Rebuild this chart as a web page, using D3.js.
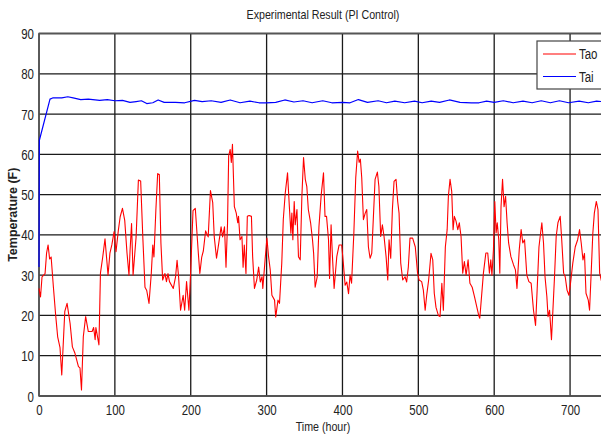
<!DOCTYPE html>
<html>
<head>
<meta charset="utf-8">
<script src="https://cdn.jsdelivr.net/npm/d3@7"></script>
<style>
  body { margin: 0; background: #fff; }
  text { font-family: "Liberation Sans", Arial, sans-serif; fill: #222; }
</style>
</head>
<body>
<div class="chart-wrapper"></div>
<script>
const chartTitle = "Experimental Result (PI Control)";
const xLabel = "Time (hour)";
const yLabel = "Temperature (F)";
const xTicks = [0, 100, 200, 300, 400, 500, 600, 700];
const yTicks = [0, 10, 20, 30, 40, 50, 60, 70, 80, 90];
const seriesNames = ["Tao", "Tai"];
const seriesColors = ["#ff0000", "#0000ff"];

// outdoor temperature, [hour, F]
const taoPoints = [
  [0, 26.7], [2, 24.6], [4, 29.6], [8, 30.4], [10, 35.5], [12, 37.5], [14, 34], [16, 34.5],
  [19, 27], [22, 20], [24.6, 14.7], [27.7, 12], [30, 5.2], [34, 21], [37, 23], [41, 18],
  [44, 12.2], [47.4, 10.6], [52, 7.3], [54, 7], [56, 1.5], [58.4, 14.7], [61.5, 19.7], [65, 16],
  [67, 16], [70, 16], [72, 17], [74, 14], [75, 17], [79, 12.7], [81, 30.5], [84, 34.5],
  [87, 39], [89, 34.5], [91, 30], [93.5, 35.5], [96, 37.5], [99, 40.8], [101.5, 35.8], [104.5, 41],
  [107, 44.5], [110, 46.6], [113, 43.6], [116, 35.5], [118.6, 30], [120, 36], [122, 42.8], [124, 30],
  [128, 39.5], [131, 53.6], [134, 53.4], [137, 38.7], [139.7, 27], [142, 26.2], [145, 23], [148, 30.4],
  [150, 37.5], [151.5, 34.5], [154, 46], [156.4, 55.2], [158.6, 55], [160.7, 38], [163, 28.8], [166, 30.4],
  [168, 28.4], [170, 30.4], [172, 28.4], [177, 26.7], [180, 29.6], [182, 33.7], [184, 29.6], [186.6, 21.3],
  [190, 25], [192, 21.3], [194.5, 28.4], [197.6, 21.3], [200, 31.3], [203, 46], [206, 46.6], [210, 35.5],
  [212, 30.4], [214.5, 34.5], [216.6, 36], [219.6, 41], [223, 39.5], [226, 51], [229, 48], [231, 39.5],
  [234, 34.2], [237, 38], [240, 42], [242, 39.5], [244.5, 42], [246.5, 32], [248.5, 42.8], [250, 59.6],
  [252, 61.2], [253.5, 58], [255, 62.5], [257.5, 47], [260, 45.4], [262, 43], [263, 44.6], [265, 38.8],
  [267.5, 39.6], [269, 32], [270.6, 37.5], [272.8, 30.4], [274.6, 44.6], [277, 44.8], [280, 44.6], [281.6, 34.6],
  [284, 26.7], [287, 28.8], [289.5, 32], [291.7, 28.3], [294, 29.6], [295, 26.7], [298, 33.8], [300.4, 39.2],
  [302.6, 34.6], [304.8, 31.3], [307, 25], [310.5, 23.8], [312, 19.6], [315, 23.8], [317, 23], [320, 33],
  [322, 43.8], [324.6, 50.4], [327.6, 55.4], [330, 47], [332, 40.4], [333.3, 45.4], [334.6, 38.8], [336.4, 48.3],
  [337.7, 42.5], [340, 46.3], [342, 34.6], [344.3, 33.8], [346.5, 49.6], [348.7, 59.2], [351, 53.8], [353, 52],
  [355, 46.3], [358, 43], [360.5, 38.8], [362, 35.4], [364, 27], [366.7, 29.6], [369, 42], [372, 50],
  [375, 55.4], [377, 44.6], [379, 44.6], [381.6, 38.8], [383, 29.2], [385, 42.5], [386.8, 34.6], [389, 26.7],
  [392.5, 34.6], [395.6, 37.5], [399, 37.5], [401, 33.3], [403.5, 27.5], [405.7, 28.3], [408, 25.4], [410, 30],
  [412, 28], [415, 40.4], [417.5, 54.2], [420, 60.8], [422, 58], [423.6, 58.8], [425.4, 54.2], [427.6, 43.8],
  [430, 45.4], [432, 46.3], [434.2, 37], [436.4, 34.2], [438.6, 35.4], [440.8, 44.6], [443, 53.8], [446, 55.6],
  [448, 52], [450.4, 39.6], [452.6, 42.5], [454.8, 39.6], [457.5, 34.6], [459.7, 28.8], [461.4, 38.8], [463.6, 34.2],
  [465.8, 46.3], [468, 53.3], [470.6, 53.8], [472.8, 48.3], [474.6, 45.4], [476.8, 33], [479.4, 28.8], [482.5, 29.6],
  [484.6, 28.3], [486.8, 32], [489, 39.2], [492.5, 39.2], [496, 37], [499, 30.5], [501, 28.8], [504.4, 28.4],
  [506.6, 26.3], [509, 21.3], [511, 25], [513.6, 28.8], [516.7, 35.4], [519, 33.8], [521, 25.5], [523.3, 22],
  [526.4, 20], [528.6, 19.7], [531, 28], [533, 21.3], [535.6, 37], [538, 41.3], [539.6, 49.6], [541.8, 53.8],
  [544, 50.8], [545.8, 41.3], [547.5, 44.6], [549.7, 43.4], [552, 41.3], [554, 43], [556.3, 39.6], [558.5, 30.5],
  [560.7, 33.4], [563, 30], [565.6, 33.8], [568, 28], [571, 27], [574, 24.7], [576, 23], [579.6, 20],
  [581, 19.3], [585.8, 30.5], [589, 35.5], [591.5, 35.5], [593.7, 30.5], [595.5, 33.8], [597, 30], [599, 36.3],
  [600.8, 48.3], [602.5, 40.5], [604, 43], [606, 38.8], [607.4, 30.5], [609, 47], [611, 53.8], [613, 47],
  [615, 49.6], [617, 43], [619, 38], [622, 34.6], [625.4, 32.6], [628, 31.3], [630, 26.7], [633, 36.3],
  [635.5, 41.3], [637.7, 38], [640, 38.8], [643, 30], [645.7, 28.4], [648.7, 28], [651.8, 21.3], [654.5, 17.5],
  [656.6, 26.3], [659, 37], [660.6, 39.6], [662.8, 43], [665, 38], [667, 29.6], [669.4, 24.7], [671, 19.7],
  [673, 21.3], [675.5, 14], [677.3, 21], [679.5, 29.6], [681.7, 39.6], [684, 43], [687, 44.6], [689, 38.8],
  [691.5, 30.5], [693.6, 29.6], [696, 26.3], [698.5, 25], [700.6, 28], [703.6, 33], [706.8, 37], [710, 38.8],
  [712.5, 41.3], [714.7, 38], [717, 33.8], [719, 35.4], [721, 25.5], [724, 23.8], [725.7, 21.3], [728, 31.3],
  [730, 40.4], [732, 45.4], [734.6, 48.3], [736.8, 46.3], [739, 30.5], [742, 28], [745, 31]
];

// indoor temperature, [hour, F]
const taiPoints = [
  [0, 32], [0.5, 63.5], [14.5, 73.7], [18, 74], [30, 74], [38, 74.3], [45, 74], [55, 73.6],
  [65, 73.7], [80, 73.4], [90, 73.6], [100, 73.3], [110, 73.4], [120, 72.9], [128, 73.1], [135, 73.3],
  [142, 72.6], [150, 72.8], [157, 73.5], [165, 72.9], [180, 72.9], [192, 72.8], [205, 73.4], [215, 73.1],
  [227, 73.3], [240, 72.9], [252, 73.5], [265, 72.8], [278, 73.2], [290, 72.8], [300, 72.8], [312, 72.9],
  [324, 73.5], [336, 73.0], [348, 73.3], [360, 72.8], [374, 73.3], [386, 72.8], [400, 72.9], [410, 72.8],
  [421, 73.6], [433, 72.9], [447, 73.3], [458, 72.8], [469, 73.2], [482, 72.8], [495, 73.2], [505, 72.8],
  [517, 73.2], [528, 72.9], [541, 73.5], [555, 72.9], [570, 72.8], [580, 72.8], [590, 73.2], [600, 72.9],
  [612, 73.3], [625, 72.8], [638, 73.2], [650, 72.8], [662, 73.3], [674, 72.8], [686, 73.3], [698, 72.8],
  [712, 73.2], [724, 72.8], [735, 73.2], [750, 73]
];

const width = 601;
const height = 437;
const narrow = 0.82; // squeeze for the narrow plot font

let svg = d3
  .select(".chart-wrapper")
  .append("svg")
  .attr("width", width)
  .attr("height", height);

let x = d3.scaleLinear().domain([0, 750]).range([39, 608]);
let y = d3.scaleLinear().domain([0, 90]).range([396, 33.5]);

let squeeze = sel => {
  sel.each(function () {
    let len = this.getComputedTextLength();
    d3.select(this)
      .attr("textLength", len * narrow)
      .attr("lengthAdjust", "spacingAndGlyphs");
  });
};

// grid
svg.append("g")
  .selectAll("line")
  .data(yTicks)
  .enter()
  .append("line")
  .attr("x1", x(0))
  .attr("x2", x(750))
  .attr("y1", d => y(d))
  .attr("y2", d => y(d))
  .attr("stroke", "#1a1a1a")
  .attr("stroke-width", 1.3);

svg.append("g")
  .selectAll("line")
  .data(xTicks)
  .enter()
  .append("line")
  .attr("x1", d => x(d))
  .attr("x2", d => x(d))
  .attr("y1", y(0))
  .attr("y2", y(90))
  .attr("stroke", "#1a1a1a")
  .attr("stroke-width", 1.3);

// tick labels
let xAxis = d3.axisBottom(x).tickValues(xTicks).tickSize(0).tickPadding(9);
let yAxis = d3.axisLeft(y).tickValues(yTicks).tickSize(0).tickPadding(5);

let gx = svg.append("g").attr("transform", `translate(0,${y(0)})`).call(xAxis);
let gy = svg.append("g").attr("transform", `translate(${x(0)},0)`).call(yAxis);
[gx, gy].forEach(g => {
  g.attr("font-family", null).attr("font-size", null);
  g.select(".domain").remove();
  g.selectAll("text")
    .style("font-size", "14px")
    .attr("fill", "#222")
    .call(squeeze);
});
gy.selectAll("text").attr("dy", "0.36em");

// frame
svg.append("path")
  .attr("d", `M${x(750)},${y(90)}H${x(0)}V${y(0)}H${x(750)}`)
  .attr("fill", "none")
  .attr("stroke", "#555")
  .attr("stroke-width", 1.5);

svg.append("clipPath")
  .attr("id", "plot-clip")
  .append("rect")
  .attr("x", x(0) - 1)
  .attr("y", y(90))
  .attr("width", x(750) - x(0) + 1)
  .attr("height", y(0) - y(90));

let line = d3.line().x(d => x(d[0])).y(d => y(d[1]));

svg.append("path")
  .datum(taoPoints)
  .attr("clip-path", "url(#plot-clip)")
  .attr("d", line)
  .attr("fill", "none")
  .attr("stroke", seriesColors[0])
  .attr("stroke-width", 1.1)
  .attr("stroke-linejoin", "round");

svg.append("path")
  .datum(taiPoints)
  .attr("clip-path", "url(#plot-clip)")
  .attr("d", line)
  .attr("fill", "none")
  .attr("stroke", seriesColors[1])
  .attr("stroke-width", 1.2)
  .attr("stroke-linejoin", "round");

// legend
let legend = svg.append("g").attr("transform", "translate(537,41)");
legend.append("rect")
  .attr("width", 66)
  .attr("height", 48)
  .attr("fill", "#fff")
  .attr("stroke", "#444")
  .attr("stroke-width", 1.2);
seriesNames.forEach((name, i) => {
  legend.append("line")
    .attr("x1", 6)
    .attr("x2", 39)
    .attr("y1", 13 + i * 22.5)
    .attr("y2", 13 + i * 22.5)
    .attr("stroke", seriesColors[i])
    .attr("stroke-width", 1.2);
  legend.append("text")
    .attr("x", 42)
    .attr("y", 13 + i * 22.5)
    .attr("dy", "0.36em")
    .style("font-size", "14px")
    .text(name)
    .call(squeeze);
});

// titles
svg.append("text")
  .attr("x", 323)
  .attr("y", 19)
  .attr("text-anchor", "middle")
  .style("font-size", "13px")
  .text(chartTitle)
  .call(squeeze);

svg.append("text")
  .attr("x", 323)
  .attr("y", 431)
  .attr("text-anchor", "middle")
  .style("font-size", "13px")
  .text(xLabel)
  .call(squeeze);

svg.append("text")
  .attr("transform", `translate(17,${(y(0) + y(90)) / 2}) rotate(-90)`)
  .attr("text-anchor", "middle")
  .style("font-weight", "bold")
  .style("font-size", "12.5px")
  .text(yLabel);
</script>
</body>
</html>
